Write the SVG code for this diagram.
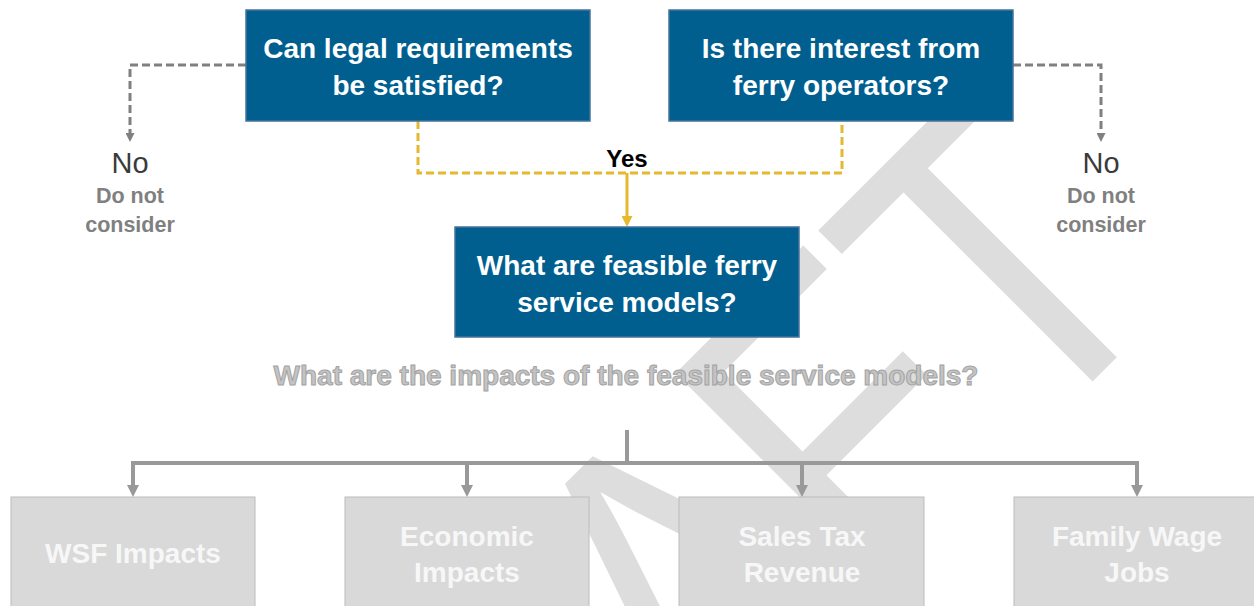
<svg xmlns="http://www.w3.org/2000/svg" width="1254" height="606" viewBox="0 0 1254 606">
  <style>
    .q { fill: #005f8f; stroke: #45739b; stroke-width: 1.5; }
    .qt { font-family: "Liberation Sans", Arial, sans-serif; font-weight: bold; font-size: 28px; fill: #ffffff; text-anchor: middle; }
    .imp { fill: #d9d9d9; stroke: #bcbcbc; stroke-width: 1; }
    .impt { font-family: "Liberation Sans", Arial, sans-serif; font-weight: bold; font-size: 28px; fill: #f7f7f7; text-anchor: middle; }
    .no { font-family: "Liberation Sans", Arial, sans-serif; font-size: 29px; fill: #3a3a3a; text-anchor: middle; }
    .dnc { font-family: "Liberation Sans", Arial, sans-serif; font-weight: bold; font-size: 21.5px; fill: #808080; text-anchor: middle; }
    .yes { font-family: "Liberation Sans", Arial, sans-serif; font-weight: bold; font-size: 24px; fill: #000000; text-anchor: middle; }
    .sub { font-family: "Liberation Sans", Arial, sans-serif; font-weight: bold; font-size: 28px; fill: #c4c4c4; stroke: #a3a3a3; stroke-width: 1; text-anchor: middle; }
    .wm { font-family: "Liberation Sans", Arial, sans-serif; font-size: 437px; fill: #dddddd; }
    .dash-gray { fill: none; stroke: #808080; stroke-width: 3; stroke-dasharray: 8 4; }
    .dash-yel { fill: none; stroke: #e6b82e; stroke-width: 3; stroke-dasharray: 8 4; }
    .solid-yel { fill: none; stroke: #e6b82e; stroke-width: 3; }
    .tree { fill: none; stroke: #999999; stroke-width: 4; }
  </style>
  <defs>
    <marker id="arrGray" markerUnits="userSpaceOnUse" markerWidth="9" markerHeight="9" refX="0" refY="4.5" orient="auto">
      <path d="M0,0 L9,4.5 L0,9 z" fill="#808080"/>
    </marker>
    <marker id="arrYel" markerUnits="userSpaceOnUse" markerWidth="11" markerHeight="11" refX="0" refY="5.5" orient="auto">
      <path d="M0,0 L11,5.5 L0,11 z" fill="#e6b82e"/>
    </marker>
    <marker id="arrTree" markerUnits="userSpaceOnUse" markerWidth="12" markerHeight="12" refX="0" refY="6" orient="auto">
      <path d="M0,0 L12,6 L0,12 z" fill="#999999"/>
    </marker>
  </defs>

  <rect width="1254" height="606" fill="#ffffff"/>

  <!-- background watermark -->
  <text class="wm" transform="translate(737,737) rotate(-45) scale(0.845,1)" x="-685 -370 -55.6 217.3 482" y="0">DRAFT</text>

  <!-- connectors -->
  <g id="connectors">
    <path class="dash-gray" d="M246,65 H130 V133" marker-end="url(#arrGray)"/>
    <path class="dash-gray" d="M1013,65 H1101 V133" marker-end="url(#arrGray)"/>
    <path class="dash-yel" d="M418,121 V173 H842 V121"/>
    <path class="solid-yel" d="M627,173 V216" marker-end="url(#arrYel)"/>
    <path class="tree" d="M627,430 V463"/>
    <path class="tree" d="M133,485 V463 H1137 V485"/>
    <path class="tree" d="M133,463 V485" marker-end="url(#arrTree)"/>
    <path class="tree" d="M467,463 V485" marker-end="url(#arrTree)"/>
    <path class="tree" d="M802,463 V485" marker-end="url(#arrTree)"/>
    <path class="tree" d="M1137,463 V485" marker-end="url(#arrTree)"/>
  </g>

  <g id="legal">
    <rect class="q" x="246" y="10" width="344" height="111"/>
    <text class="qt" x="418" y="58">Can legal requirements</text>
    <text class="qt" x="418" y="95">be satisfied?</text>
  </g>

  <g id="operators">
    <rect class="q" x="669" y="10" width="344" height="111"/>
    <text class="qt" x="841" y="58">Is there interest from</text>
    <text class="qt" x="841" y="95">ferry operators?</text>
  </g>

  <g id="no-left">
    <text class="no" x="130" y="173">No</text>
    <text class="dnc" x="130" y="203">Do not</text>
    <text class="dnc" x="130" y="232">consider</text>
  </g>

  <g id="no-right">
    <text class="no" x="1101" y="173">No</text>
    <text class="dnc" x="1101" y="203">Do not</text>
    <text class="dnc" x="1101" y="232">consider</text>
  </g>

  <g id="yes-label">
    <text class="yes" x="627" y="167">Yes</text>
  </g>

  <g id="service-models">
    <rect class="q" x="455" y="227" width="344" height="110"/>
    <text class="qt" x="627" y="275">What are feasible ferry</text>
    <text class="qt" x="627" y="312">service models?</text>
  </g>

  <g id="impacts-question">
    <text class="sub" x="626" y="385">What are the impacts of the feasible service models?</text>
  </g>

  <g id="wsf">
    <rect class="imp" x="11" y="497" width="244" height="130"/>
    <text class="impt" x="133" y="563">WSF Impacts</text>
  </g>

  <g id="economic">
    <rect class="imp" x="345" y="497" width="244" height="130"/>
    <text class="impt" x="467" y="546">Economic</text>
    <text class="impt" x="467" y="582">Impacts</text>
  </g>

  <g id="sales-tax">
    <rect class="imp" x="679" y="497" width="245" height="130"/>
    <text class="impt" x="802" y="546">Sales Tax</text>
    <text class="impt" x="802" y="582">Revenue</text>
  </g>

  <g id="family-wage">
    <rect class="imp" x="1014" y="497" width="245" height="130"/>
    <text class="impt" x="1137" y="546">Family Wage</text>
    <text class="impt" x="1137" y="582">Jobs</text>
  </g>
</svg>
